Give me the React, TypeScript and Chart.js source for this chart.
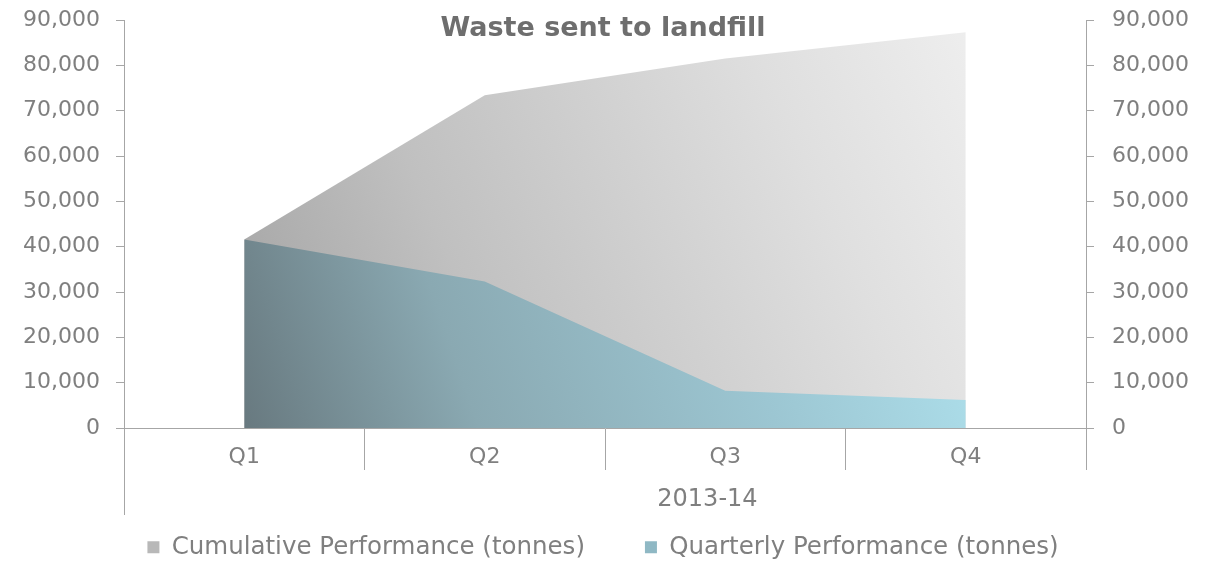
import React, { useEffect, useRef } from "react";
import { Chart, registerables } from "chart.js";

Chart.register(...registerables);

const categories = ["Q1", "Q2", "Q3", "Q4"];
const cumulativeValues = [41600, 73400, 81500, 87300];
const quarterlyValues = [41600, 32300, 8200, 6200];
const seriesNames = ["Cumulative Performance (tonnes)", "Quarterly Performance (tonnes)"];
const groupLabel = "2013-14";
const chartTitle = "Waste sent to landfill";

const FONT = "'DejaVu Sans', 'Liberation Sans', Arial, sans-serif";
const AXIS = "#a6a6a6";
const TEXT = "#7f7f7f";

const groupPlugin = {
  id: "groupAxis",
  afterDraw(chart: any) {
    const { ctx, chartArea } = chart;
    ctx.save();
    ctx.strokeStyle = AXIS;
    ctx.lineWidth = 1;
    ctx.beginPath();
    const x = Math.round(chartArea.left) + 0.5;
    ctx.moveTo(x, chartArea.bottom);
    ctx.lineTo(x, chartArea.bottom + 87);
    ctx.stroke();
    ctx.fillStyle = TEXT;
    ctx.font = `24px ${FONT}`;
    ctx.textAlign = "center";
    ctx.textBaseline = "middle";
    const gx = chartArea.left + (chartArea.right - chartArea.left) * 0.6065;
    ctx.fillText(groupLabel, gx, chartArea.bottom + 72);
    ctx.restore();
  },
};

function cumGradient(context: any) {
  const chart = context.chart;
  const ca = chart.chartArea;
  if (!ca) return "#cccccc";
  const g = chart.ctx.createLinearGradient(ca.left, ca.bottom, ca.right, ca.top);
  g.addColorStop(0, "#949494");
  g.addColorStop(0.35, "#c0c0c0");
  g.addColorStop(0.7, "#dfdfdf");
  g.addColorStop(1, "#f6f6f6");
  return g;
}

function qGradient(context: any) {
  const chart = context.chart;
  const ca = chart.chartArea;
  if (!ca) return "#92b8c3";
  const g = chart.ctx.createLinearGradient(ca.left + 100, ca.bottom, ca.right - 100, ca.top + 150);
  g.addColorStop(0, "#65757b");
  g.addColorStop(0.3, "#8aa9b2");
  g.addColorStop(0.65, "#9cc6d2");
  g.addColorStop(1, "#b2e6f2");
  return g;
}

export default function App() {
  const ref = useRef<HTMLCanvasElement | null>(null);

  useEffect(() => {
    document.body.style.margin = "0";
    const canvas = ref.current;
    if (!canvas) return;
    const fmt = (v: any) => Number(v).toLocaleString("en-US");
    const chart = new Chart(canvas, {
      type: "line",
      data: {
        labels: categories,
        datasets: [
          {
            label: seriesNames[0],
            data: cumulativeValues,
            fill: "origin",
            backgroundColor: cumGradient,
            borderWidth: 0,
            borderColor: "rgba(0,0,0,0)",
            pointRadius: 0,
            tension: 0,
            order: 2,
            yAxisID: "y",
          },
          {
            label: seriesNames[1],
            data: quarterlyValues,
            fill: "origin",
            backgroundColor: qGradient,
            borderWidth: 0,
            borderColor: "rgba(0,0,0,0)",
            pointRadius: 0,
            tension: 0,
            order: 1,
            yAxisID: "y",
          },
        ],
      },
      options: {
        responsive: false,
        animation: false,
        devicePixelRatio: 1,
        layout: { padding: { top: 0, left: 0, right: 0, bottom: -7.5 } },
        plugins: {
          tooltip: { enabled: false },
          title: {
            display: true,
            text: chartTitle,
            color: "#6e6e6e",
            font: { family: FONT, size: 27, weight: "bold" },
            padding: { top: 12.3, bottom: -24.7 },
          },
          legend: {
            display: true,
            position: "bottom",
            labels: {
              color: TEXT,
              font: { family: FONT, size: 24.5 },
              boxWidth: 12,
              boxHeight: 12,
              padding: 60,
              generateLabels: (c: any) =>
                c.data.datasets.map((ds: any, i: number) => ({
                  text: ds.label,
                  fillStyle: i === 0 ? "#b8b8b8" : "#8fb8c4",
                  strokeStyle: "rgba(0,0,0,0)",
                  lineWidth: 0,
                  hidden: false,
                  datasetIndex: i,
                  fontColor: TEXT,
                })),
            },
          },
        },
        scales: {
          x: {
            type: "category",
            offset: true,
            grid: {
              offset: true,
              drawOnChartArea: false,
              drawTicks: true,
              tickLength: 42,
              color: AXIS,
            },
            border: { display: true, color: AXIS },
            ticks: { color: TEXT, font: { family: FONT, size: 22 }, padding: -26 },
            afterFit: (s: any) => {
              s.height = 47;
            },
          },
          y: {
            type: "linear",
            position: "left",
            min: 0,
            max: 90000,
            grid: { drawOnChartArea: false, drawTicks: true, tickLength: 8, color: AXIS },
            border: { display: true, color: AXIS },
            ticks: {
              stepSize: 10000,
              color: TEXT,
              font: { family: FONT, size: 22 },
              padding: 16,
              callback: fmt,
            },
            afterFit: (s: any) => {
              s.width = 124;
              s.paddingTop = 0;
              s.paddingBottom = 0;
            },
          },
          y2: {
            type: "linear",
            position: "right",
            min: 0,
            max: 90000,
            grid: { drawOnChartArea: false, drawTicks: true, tickLength: 8, color: AXIS },
            border: { display: true, color: AXIS },
            ticks: {
              stepSize: 10000,
              color: TEXT,
              font: { family: FONT, size: 22 },
              padding: 18,
              callback: fmt,
            },
            afterFit: (s: any) => {
              s.width = 120;
              s.paddingTop = 0;
              s.paddingBottom = 0;
            },
          },
        },
      },
      plugins: [groupPlugin],
    } as any);
    return () => chart.destroy();
  }, []);

  return (
    <canvas
      ref={ref}
      width={1206}
      height={562}
      style={{ display: "block", width: "1206px", height: "562px" }}
    />
  );
}
